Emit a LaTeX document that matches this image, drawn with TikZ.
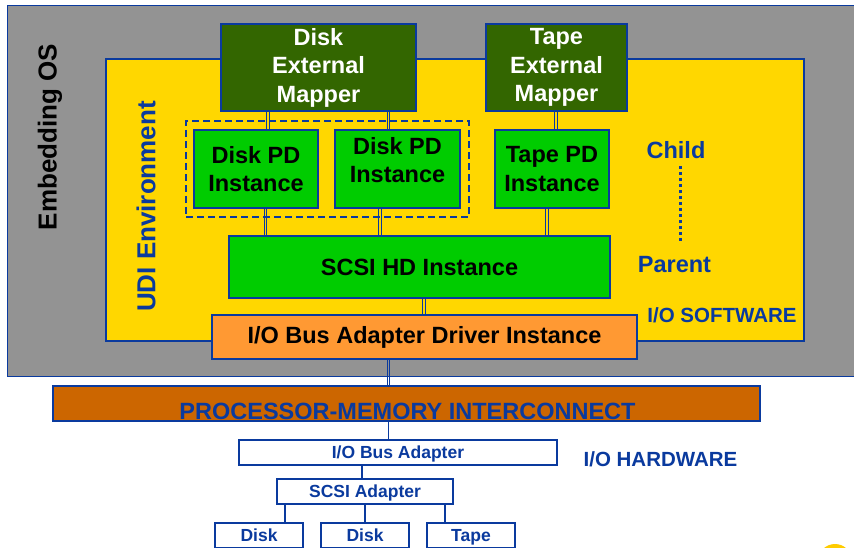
\documentclass[tikz,border=0pt]{standalone}
\usepackage{fontspec}
\setmainfont{Liberation Sans}
\usepackage{tikz}
\usetikzlibrary{positioning}
\definecolor{udiblue}{HTML}{0A3A9E}
\definecolor{osgray}{HTML}{939393}
\definecolor{envyellow}{HTML}{FFD700}
\definecolor{mapgreen}{HTML}{336600}
\definecolor{pdgreen}{HTML}{00CC00}
\definecolor{drvorange}{HTML}{FF9933}
\definecolor{busbrown}{HTML}{CC6600}
\definecolor{sunyellow}{HTML}{FFCC00}
\tikzstyle{box} = [rectangle, draw=udiblue, line width=1.2pt, inner sep=0pt, align=center, font=\bfseries\fontsize{23.5}{28.5}\selectfont]
\tikzstyle{mapper} = [box, fill=mapgreen, text=white]
\tikzstyle{pd} = [box, fill=pdgreen]
\tikzstyle{pdtext} = [inner sep=0pt, align=center, font=\bfseries\fontsize{23.5}{28.5}\selectfont]
\tikzstyle{driver} = [box, fill=drvorange]
\tikzstyle{interconnect} = [box, fill=busbrown]
\tikzstyle{hw} = [box, fill=white, text=udiblue, text height=12.6pt, text depth=1.6pt, font=\bfseries\fontsize{17.5}{21}\selectfont]
\tikzstyle{bluelabel} = [text=udiblue, inner sep=0pt, font=\bfseries\fontsize{23.5}{28}\selectfont]
\tikzstyle{zonelabel} = [text=udiblue, inner sep=0pt, font=\bfseries\fontsize{20.5}{24}\selectfont]
\tikzstyle{sidelabel} = [rotate=90, inner sep=0pt, font=\bfseries\fontsize{26}{30}\selectfont]
\tikzstyle{frame} = [draw=udiblue, line width=1.2pt]
\tikzstyle{group} = [draw=udiblue, line width=1.3pt, dash pattern=on 7pt off 4pt, minimum width=283, minimum height=96]
\tikzstyle{bus} = [draw=udiblue, line width=1.2pt]
\tikzstyle{wire} = [draw=udiblue, line width=1.3pt]
\tikzstyle{dotline} = [draw=udiblue, line width=3pt, dash pattern=on 3pt off 3pt]

\begin{document}
\begin{tikzpicture}[x=1pt, y=-1pt]
	\useasboundingbox (0,0) rectangle (854,548);
	% embedding OS and UDI environment
	\node (os) [fill=osgray, inner sep=0pt, minimum width=846, minimum height=370] at (431,191) {};
	\draw [frame] (os.north east) -- (os.north west) -- (os.south west) -- (os.south east);
	\node (osname) [sidelabel] at (50,137) {Embedding OS};
	\node (udi) [box, fill=envyellow, minimum width=698, minimum height=282] at (455,200) {};
	\node (udiname) [sidelabel, text=udiblue] at (146,206.5) {UDI Environment};
	% software
	\node (dmap) [mapper, minimum width=195, minimum height=87] at (318.5,67.5) {Disk\\External\\Mapper};
	\node (tmap) [mapper, minimum width=141, minimum height=87] at (556.5,67.5) {Tape\\External\\Mapper};
	\node (pdgroup) [group] at (327.5,169) {};
	\node (pdA) [pd, minimum width=124, minimum height=78] at (256,169) {Disk PD\\Instance};
	\node (pdB) [pd, minimum width=125, minimum height=78] at (397.5,169) {};
	\node (pdBtext) [pdtext] at ([yshift=9]pdB) {Disk PD\\Instance};
	\node (tpd) [pd, minimum width=114, minimum height=78] at (552,169) {Tape PD\\Instance};
	\node (scsihd) [pd, minimum width=381, minimum height=62] at (419.5,267) {SCSI HD Instance};
	\node (drv) [driver, minimum width=425, minimum height=44] at (424.5,337) {I/O Bus Adapter Driver Instance};
	\node (child) [bluelabel] at (676,150) {Child};
	\node (parent) [bluelabel] at (674.5,265) {Parent};
	\node (iosw) [zonelabel] at (722,315.5) {I/O SOFTWARE};
	% hardware
	\node (pmi) [interconnect, minimum width=707, minimum height=35] at (406.5,403.5) {};
	\node (pmitext) [bluelabel, anchor=base] at (407.5,419) {PROCESSOR-MEMORY INTERCONNECT};
	\node (ioba) [hw, minimum width=318, minimum height=25] at (398,452.5) {I/O Bus Adapter};
	\node (scsia) [hw, minimum width=176, minimum height=25] at (365,491.5) {SCSI Adapter};
	\node (diskA) [hw, minimum width=88, minimum height=25] at (259,535.5) {Disk};
	\node (diskB) [hw, minimum width=88, minimum height=25] at (365,535.5) {Disk};
	\node (tape) [hw, minimum width=88, minimum height=25] at (471,535.5) {Tape};
	\node (iohw) [zonelabel] at (660.5,459.5) {I/O HARDWARE};
	% links
	\foreach \up/\lo/\dx in {dmap/pdA/-50.5, dmap/pdB/70, tmap/tpd/-0.5, pdA/scsihd/9.5, pdB/scsihd/-17.5, tpd/scsihd/-5, scsihd/drv/4.5, drv/pmi/-36}
		\foreach \o in {-1.2,1.2}
			\draw [bus] ([xshift=\dx+\o]\up.south) -- ([xshift=\dx+\o]\up.south |- \lo.north);
	\foreach \up/\lo/\dx in {pmi/ioba/-18, ioba/scsia/-36, scsia/diskA/-80, scsia/diskB/0, scsia/tape/80}
		\draw [wire] ([xshift=\dx]\up.south) -- ([xshift=\dx]\up.south |- \lo.north);
	\draw [dotline, shorten <=7pt, shorten >=14pt] ([xshift=4.5]child.south) -- ([xshift=4.5]child.south |- parent.north);
	\fill [sunyellow] (835,561) circle [radius=17pt];
\end{tikzpicture}
\end{document}
